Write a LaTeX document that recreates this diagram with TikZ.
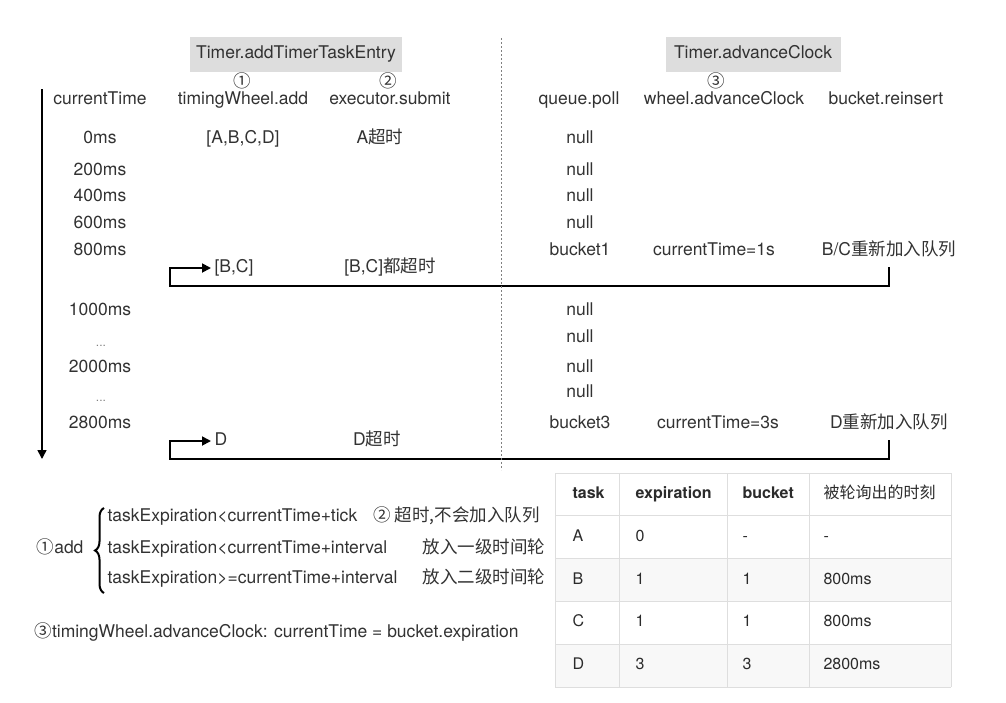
\documentclass[tikz,border=0pt]{standalone}
\usepackage{fontspec}
\setmainfont{TeX Gyre Heros}
\newfontfamily\cjk{Noto Sans CJK SC}
\usetikzlibrary{positioning, arrows.meta, decorations.pathreplacing}
\definecolor{ink}{RGB}{50,50,50}
\definecolor{boxgray}{RGB}{221,221,221}
\definecolor{rule}{RGB}{222,222,222}
\definecolor{stripe}{RGB}{248,248,248}
\tikzset{
>={Triangle[length=9pt,width=9pt]}, % bold triangle heads
every node/.style={text=ink, font=\fontsize{17.5}{20}\selectfont, text height=12pt, text depth=3pt}, % all labels
title/.style={fill=boxgray, minimum height=35pt, inner sep=0pt}, % grey section headers
dots/.style={text=gray, font=\fontsize{12}{12}\selectfont}, % skipped rows
flow/.style={->, line width=1.8pt, black, shorten <=5pt}, % re-insert loops
sep/.style={gray, line width=0.8pt, dash pattern=on 2pt off 2pt}, % middle separator
cell/.style={anchor=west, text=ink!85!black, font=\fontsize{16}{18}\selectfont}, % table text
head/.style={cell, font=\fontsize{16}{18}\selectfont\bfseries}, % table header
}

\begin{document}
\begin{tikzpicture}[x=1pt, y=-1pt]
    \useasboundingbox (0,0) rectangle (1006,702);
    % section headers
    \node[title, minimum width=212pt] (addEntry) at (296,54) {Timer.addTimerTaskEntry};
    \node[title, minimum width=175pt] (advClock) at (753,54) {Timer.advanceClock};
    \node (n1) at (242,83) {\cjk ①};
    \node (n2) at (388,83) {\cjk ②};
    \node (n3) at (716,83) {\cjk ③};
    % column heads
    \node (hTime) at (100,100) {currentTime};
    \node (hAdd) at (243,100) {timingWheel.add};
    \node (hSubmit) at (390,100) {executor.submit};
    \node (hPoll) at (579,100) {queue.poll};
    \node (hWheel) at (724,100) {wheel.advanceClock};
    \node (hReins) at (886,100) {bucket.reinsert};
    % time and poll columns
    \foreach \lbl/\y [count=\i] in {0ms/139, 200ms/171, 400ms/197, 600ms/224, 800ms/251, 1000ms/311, 2000ms/368, 2800ms/424}
        \node (t\i) at (100,\y) {\lbl};
    \node[dots] (skip1) at (101,342) {...};
    \node[dots] (skip2) at (101,397) {...};
    \foreach \lbl/\y [count=\i] in {null/139, null/171, null/197, null/224, bucket1/251, null/311, null/338, null/368, null/393, bucket3/424}
        \node (p\i) at (580,\y) {\lbl};
    % tasks
    \node (addAll) at (243,139) {[A,B,C,D]};
    \node (subA) at (380,139) {A{\cjk 超时}};
    \node (wheel1) at (714,251) {currentTime=1s};
    \node (reins1) at (889,251) {B/C{\cjk 重新加入队列}};
    \node[anchor=west] (addBC) at (211,268) {[B,C]};
    \node (subBC) at (390,268) {[B,C]{\cjk 都超时}};
    \node (wheel3) at (718,424) {currentTime=3s};
    \node (reins3) at (889,424) {D{\cjk 重新加入队列}};
    \node[anchor=west] (addD) at (211,441) {D};
    \node (subD) at (377,441) {D{\cjk 超时}};
    \coordinate (back1) at (170,286);
    \coordinate (back3) at (170,459);
    \draw[flow] (reins1.south) |- (back1) |- (addBC.west);
    \draw[flow] (reins3.south) |- (back3) |- (addD.west);
    % time axis and separator
    \coordinate (tTop) at (42,89);
    \coordinate (tEnd) at (42,459);
    \draw[->, line width=1.5pt, black] (tTop) -- (tEnd);
    \coordinate (sepTop) at (501,38);
    \coordinate (sepBot) at (501,470);
    \draw[sep] (sepTop) -- (sepBot);
    % legend
    \node[anchor=west] (cond1) at (104,517) {taskExpiration<currentTime+tick};
    \node[anchor=west] (cond2) at (104,549) {taskExpiration<currentTime+interval};
    \node[anchor=west] (cond3) at (104,579) {taskExpiration>=currentTime+interval};
    \node[anchor=east] (addLbl) at (87,549) {{\cjk ①}add};
    \draw[black, line width=2pt, decorate, decoration={brace, amplitude=9pt}]
        ([yshift=-3pt]cond3.south west) -- ([yshift=-2pt]cond1.north west);
    \node[anchor=west] (note1) at (370,517) {\cjk ② 超时,不会加入队列};
    \node[anchor=east] (note2) at (549,549) {\cjk 放入一级时间轮};
    \node[anchor=east] (note3) at (549,579) {\cjk 放入二级时间轮};
    \node[anchor=west] (advNote) at (31,633) {{\cjk ③}timingWheel.advanceClock: currentTime = bucket.expiration};
    % table
    \fill[stripe] (555,558.6) rectangle (951,601.4);
    \fill[stripe] (555,644.2) rectangle (951,687);
    \foreach \y in {473,515.8,558.6,601.4,644.2,687}
        \draw[rule, line width=1pt] (555,\y) -- (951,\y);
    \foreach \x in {555,619,727,809,951}
        \draw[rule, line width=1pt] (\x,473) -- (\x,687);
    \node[head] (hTask) at (569,494) {task};
    \node[head] (hExp) at (632,494) {expiration};
    \node[head] (hBucket) at (739,494) {bucket};
    \node[head] (hWhen) at (820,494) {\mdseries\cjk 被轮询出的时刻};
    \foreach \a/\b/\c/\d [count=\r] in {A/0/-/-, B/1/1/800ms, C/1/1/800ms, D/3/3/2800ms} {
        \node[cell] (task\r) at (569,494+\r*42.8) {\a};
        \node[cell] (exp\r) at (632,494+\r*42.8) {\b};
        \node[cell] (bucket\r) at (739,494+\r*42.8) {\c};
        \node[cell] (when\r) at (820,494+\r*42.8) {\d};
    }
\end{tikzpicture}
\end{document}
